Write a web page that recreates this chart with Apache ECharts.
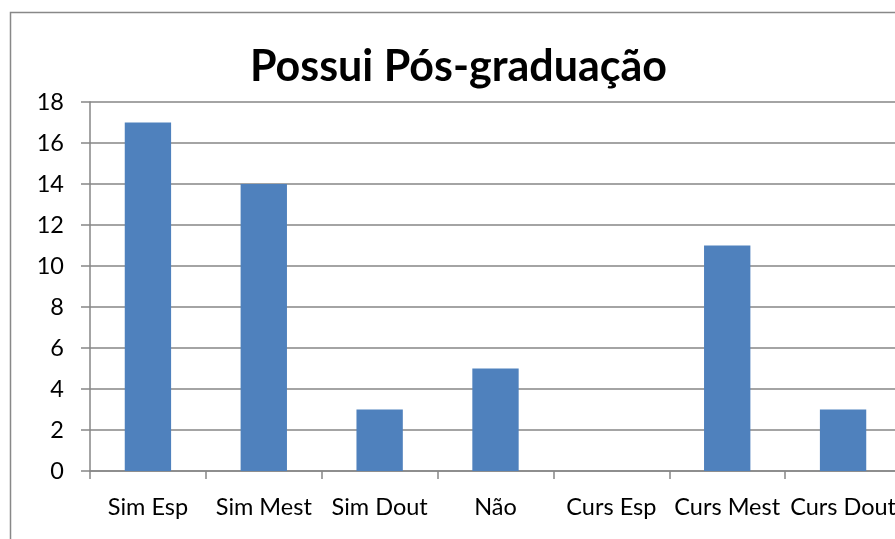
<!DOCTYPE html>
<html><head><meta charset="utf-8">
<script src="https://cdn.jsdelivr.net/npm/echarts@6/dist/echarts.min.js"></script>
<style>html,body{margin:0;padding:0;background:#fff;overflow:hidden;width:895px;height:539px}#c{width:910px;height:539px}</style>
</head><body><div id="c"></div>
<script>
const categories = ['Sim Esp','Sim Mest','Sim Dout','Não','Curs Esp','Curs Mest','Curs Dout'];
const values = [17, 14, 3, 5, 0, 11, 3];
const yTicks = {min: 0, max: 18, interval: 2};
const chart = echarts.init(document.getElementById('c'), null, {renderer: 'canvas'});
const font = 'Lato, "Open Sans", sans-serif';
chart.setOption({
  animation: false,
  backgroundColor: '#fff',
  title: {
    text: 'Possui Pós-graduação', left: 245, top: 41,
    textStyle: {fontFamily: font, fontSize: 43, fontWeight: 'bold', color: '#000'}
  },
  graphic: [{
    type: 'rect', shape: {x: 10.5, y: 12.5, width: 1000, height: 1000},
    style: {fill: 'none', stroke: '#888', lineWidth: 1.5}, silent: true, z: -1
  }],
  grid: {left: 90, width: 811, top: 102, height: 369},
  xAxis: {
    type: 'category', data: categories,
    axisLine: {lineStyle: {color: '#868686', width: 1.5}},
    axisTick: {show: true, length: 8, lineStyle: {color: '#868686', width: 1.5}},
    axisLabel: {fontFamily: font, fontSize: 23.5, color: '#000', margin: 24, interval: 0}
  },
  yAxis: {
    type: 'value', min: yTicks.min, max: yTicks.max, interval: yTicks.interval,
    axisLine: {show: true, lineStyle: {color: '#868686', width: 1.5}},
    axisTick: {show: true, length: 9, lineStyle: {color: '#868686', width: 1.5}},
    splitLine: {lineStyle: {color: '#868686', width: 1.5}},
    axisLabel: {fontFamily: font, fontSize: 23.5, color: '#000', margin: 26}
  },
  series: [{
    type: 'bar', data: values, barWidth: '40%',
    itemStyle: {color: '#4F81BD'}
  }]
});
</script></body></html>
